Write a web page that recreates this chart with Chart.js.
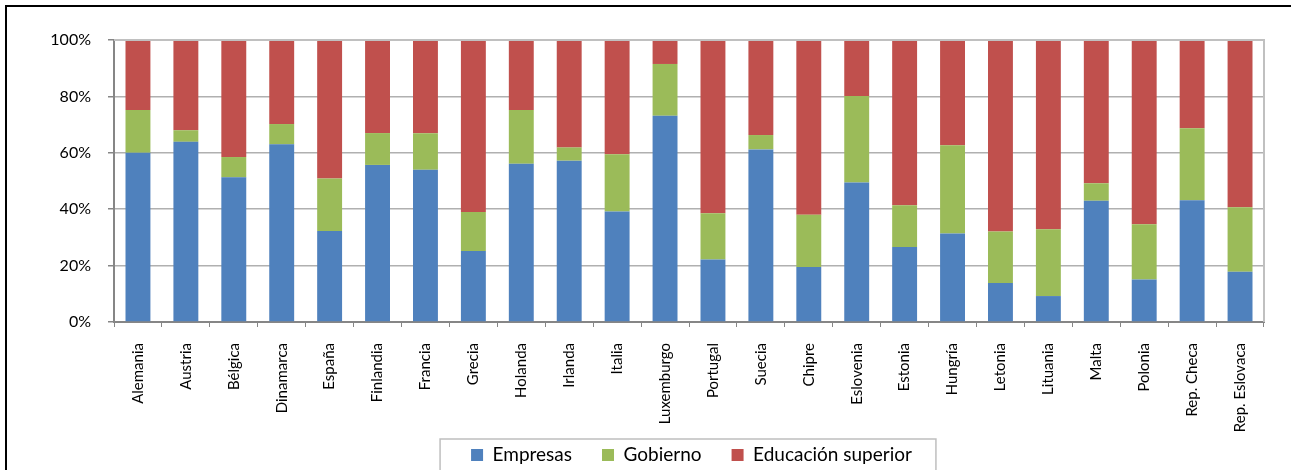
<!DOCTYPE html>
<html>
<head>
<meta charset="utf-8">
<script src="https://cdn.jsdelivr.net/npm/chart.js@4/dist/chart.umd.min.js"></script>
<style>
  html, body { margin: 0; padding: 0; background: #fff; overflow: hidden; }
  #wrap { position: relative; width: 1291px; height: 470px; overflow: hidden; }
  #frame { position: absolute; left: 5px; top: 5px; width: 1300px; height: 520px;
           border-left: 2px solid #000; border-top: 2px solid #000; }
  canvas { position: absolute; left: 0; top: 0; }
</style>
</head>
<body>
<div id="wrap">
  <div id="frame"></div>
  <canvas id="c" width="1291" height="520"></canvas>
</div>
<script>
const categories = ["Alemania","Austria","Bélgica","Dinamarca","España","Finlandia","Francia","Grecia","Holanda","Irlanda","Italia","Luxemburgo","Portugal","Suecia","Chipre","Eslovenia","Estonia","Hungría","Letonia","Lituania","Malta","Polonia","Rep. Checa","Rep. Eslovaca"];
const empresas = [60.0,63.9,51.3,63.0,32.3,55.7,54.0,25.2,56.1,57.2,39.2,73.1,22.2,61.2,19.5,49.5,26.6,31.4,13.8,9.2,43.0,15.1,43.2,17.8];
const gobierno = [15.2,4.1,7.2,7.2,18.6,11.3,12.9,13.8,19.1,4.7,20.3,18.4,16.4,5.1,18.5,30.6,14.8,31.3,18.3,23.7,6.2,19.6,25.5,22.9];
const educacion = [24.8,32.0,41.5,29.8,49.1,33.0,33.1,61.0,24.8,38.1,40.5,8.5,61.4,33.7,62.0,19.9,58.6,37.3,67.9,67.1,50.8,65.3,31.3,59.3];
const seriesNames = ["Empresas","Gobierno","Educación superior"];
const yTicks = [0,20,40,60,80,100];

const FONT = "Lato";
const LEGEND_PAD = 30;
const LEGEND_TEXT_CENTER = 455;

const frameLines = {
  id: 'frameLines',
  afterLayout(chart) {
    // lift the legend so it sits under the rotated category labels, as in the original
    const lg = chart.legend;
    if (!lg) return;
    const wantedTop = LEGEND_TEXT_CENTER - LEGEND_PAD - lg.options.labels.font.size / 2;
    const d = lg.top - wantedTop;
    lg.top -= d; lg.bottom -= d;
    lg.left += 2.5; lg.right += 2.5;
  },
  afterDatasetsDraw(chart) {
    const {ctx, chartArea: a} = chart;
    ctx.save();
    ctx.strokeStyle = '#c0c0c0';
    ctx.lineWidth = 2;
    ctx.beginPath();
    ctx.moveTo(a.left, a.top);
    ctx.lineTo(a.right, a.top);
    ctx.lineTo(a.right, a.bottom);
    ctx.stroke();
    ctx.restore();
  },
  afterDraw(chart) {
    const lg = chart.legend;
    if (!lg || !lg.legendHitBoxes || !lg.legendHitBoxes.length) return;
    const hb = lg.legendHitBoxes;
    const left = hb[0].left - 31;
    const right = hb[hb.length-1].left + hb[hb.length-1].width + 24;
    const top = LEGEND_TEXT_CENTER - 16;
    const ctx = chart.ctx;
    ctx.save();
    ctx.strokeStyle = '#bfbfbf';
    ctx.lineWidth = 1.5;
    ctx.strokeRect(left, top, right - left, 200);
    ctx.restore();
  }
};

new Chart(document.getElementById('c'), {
  type: 'bar',
  data: {
    labels: categories,
    datasets: [
      { label: seriesNames[0], data: empresas, backgroundColor: '#4F81BD' },
      { label: seriesNames[1], data: gobierno, backgroundColor: '#9BBB59' },
      { label: seriesNames[2], data: educacion, backgroundColor: '#C0504D' }
    ]
  },
  options: {
    responsive: false,
    animation: false,
    devicePixelRatio: 1,
    layout: { padding: { top: 40, left: 0, right: 27, bottom: 27 } },
    datasets: { bar: { barPercentage: 0.52, categoryPercentage: 1.0, borderWidth: 0 } },
    plugins: {
      tooltip: { enabled: false },
      legend: {
        position: 'bottom',
        fullSize: false,
        labels: {
          boxWidth: 12, boxHeight: 12, padding: LEGEND_PAD,
          color: '#000',
          font: { family: FONT, size: 19 }
        }
      }
    },
    scales: {
      x: {
        stacked: true,
        afterFit(s) { s.height = 112; },
        grid: { display: true, drawOnChartArea: false, drawTicks: true, tickLength: 5, tickColor: '#868686', offset: true },
        border: { display: true, color: '#868686', width: 2 },
        ticks: { color: '#000', minRotation: 90, maxRotation: 90, autoSkip: false, padding: 16,
                 font: { family: FONT, size: 15 } }
      },
      y: {
        stacked: true,
        min: 0, max: 100,
        afterFit(s) { s.width = 114; },
        afterBuildTicks(s) { s.ticks = yTicks.map(v => ({ value: v })); },
        grid: { color: '#b0b0b0', lineWidth: 1.5, borderDash: [5, 3], drawTicks: true, tickLength: 6,
                tickColor: '#868686', tickBorderDash: [] },
        border: { display: true, color: '#868686', width: 2 },
        ticks: { color: '#000', padding: 17, font: { family: FONT, size: 16 },
                 callback: v => v + '%' }
      }
    }
  },
  plugins: [frameLines]
});
</script>
</body>
</html>
